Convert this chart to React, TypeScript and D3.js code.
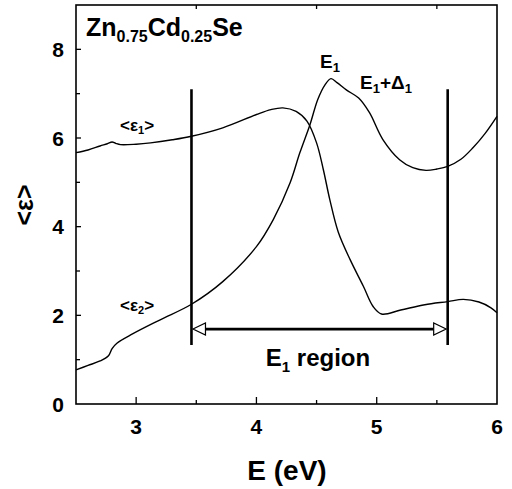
import React from "react";
import * as d3 from "d3";

const eps1: [number, number][] = [
  [2.5, 5.67], [2.6, 5.73], [2.7, 5.82], [2.76, 5.87], [2.8, 5.91], [2.83, 5.88], [2.87, 5.85],
  [3.0, 5.86], [3.12, 5.89], [3.3, 5.96], [3.46, 6.04], [3.72, 6.23], [4.0, 6.53],
  [4.12, 6.64], [4.22, 6.68], [4.33, 6.6], [4.42, 6.38], [4.5, 5.89], [4.556, 5.29],
  [4.61, 4.61], [4.68, 3.88], [4.78, 3.25], [4.89, 2.65], [4.97, 2.2], [5.04, 2.03],
  [5.2, 2.12], [5.4, 2.24], [5.59, 2.31], [5.72, 2.36], [5.85, 2.3], [5.95, 2.17], [6.0, 2.06],
];

const eps2: [number, number][] = [
  [2.5, 0.77], [2.6, 0.87], [2.7, 0.97], [2.77, 1.09], [2.8, 1.25], [2.84, 1.37],
  [2.97, 1.58], [3.2, 1.9], [3.46, 2.25], [3.72, 2.76], [4.0, 3.55], [4.14, 4.16],
  [4.28, 4.99], [4.36, 5.66], [4.445, 6.3], [4.51, 6.87], [4.57, 7.2], [4.62, 7.34],
  [4.67, 7.25], [4.75, 7.08], [4.85, 6.9], [4.94, 6.57], [5.05, 5.97], [5.19, 5.51],
  [5.3, 5.33], [5.41, 5.27], [5.5, 5.3], [5.59, 5.36], [5.7, 5.52], [5.8, 5.78],
  [5.9, 6.1], [6.0, 6.49],
];

const xMajor = [3, 4, 5];
const xMinor = [3.5, 4.5, 5.5];
const yMajor = [0, 2, 4, 6, 8];
const yMinor = [1, 3, 5, 7];
const regionBounds = [3.46, 5.59];
const regionLineY = [1.33, 7.1];
const arrowY = 1.69;

const font = "'Liberation Sans', Arial, Helvetica, sans-serif";

export default function App() {
  const L = 76, R = 497, T = 5, B = 404;
  const x = d3.scaleLinear().domain([2.5, 6]).range([L, R]);
  const y = d3.scaleLinear().domain([0, 9]).range([B, T]);
  const line = d3
    .line<[number, number]>()
    .x((d) => x(d[0]))
    .y((d) => y(d[1]))
    .curve(d3.curveCatmullRom.alpha(0.5));

  const ax0 = x(regionBounds[0]);
  const ax1 = x(regionBounds[1]);
  const ay = y(arrowY);
  const hw = 14, hh = 6;

  return (
    <svg
      width={512}
      height={489}
      style={{ position: "absolute", left: 0, top: 0, background: "#fff" }}
      fontFamily={font}
      fontWeight="bold"
    >
      <rect x={0} y={0} width={512} height={489} fill="#fff" />
      {/* curves */}
      <path d={line(eps1) || ""} fill="none" stroke="#000" strokeWidth={1.4} />
      <path d={line(eps2) || ""} fill="none" stroke="#000" strokeWidth={1.4} />

      {/* frame */}
      <rect x={L} y={T} width={R - L} height={B - T} fill="none" stroke="#000" strokeWidth={1.6} />

      {/* ticks */}
      {xMajor.map((v) => (
        <line key={"xM" + v} x1={x(v)} x2={x(v)} y1={B} y2={B - 7} stroke="#000" strokeWidth={1.3} />
      ))}
      {xMinor.map((v) => (
        <line key={"xm" + v} x1={x(v)} x2={x(v)} y1={B} y2={B - 4} stroke="#000" strokeWidth={1.3} />
      ))}
      {xMinor.map((v) => (
        <line key={"xt" + v} x1={x(v)} x2={x(v)} y1={T} y2={T + 4} stroke="#000" strokeWidth={1.3} />
      ))}
      {yMajor.filter((v) => v > 0).map((v) => (
        <line key={"yM" + v} x1={L} x2={L + 5} y1={y(v)} y2={y(v)} stroke="#000" strokeWidth={1.3} />
      ))}
      {yMinor.map((v) => (
        <line key={"ym" + v} x1={L} x2={L + 4} y1={y(v)} y2={y(v)} stroke="#000" strokeWidth={1.3} />
      ))}

      {/* tick labels */}
      {[...xMajor, 6].map((v) => (
        <text key={"xl" + v} x={x(v)} y={434} fontSize={21} textAnchor="middle">
          {v}
        </text>
      ))}
      {yMajor.map((v) => (
        <text key={"yl" + v} x={64} y={y(v) + 7.5} fontSize={21} textAnchor="end">
          {v}
        </text>
      ))}

      {/* axis titles */}
      <text x={287} y={480} fontSize={28} textAnchor="middle">E (eV)</text>
      <text transform="translate(33,205) rotate(-90)" fontSize={25} textAnchor="middle">
        {"<\u03b5>"}
      </text>

      {/* region lines */}
      {regionBounds.map((v) => (
        <line key={"rb" + v} x1={x(v)} x2={x(v)} y1={y(regionLineY[0])} y2={y(regionLineY[1])} stroke="#000" strokeWidth={2.6} />
      ))}
      <line x1={ax0 + hw} x2={ax1 - hw} y1={ay} y2={ay} stroke="#000" strokeWidth={2.6} />
      <path d={`M${ax0 + 1.5},${ay} L${ax0 + hw},${ay - hh} L${ax0 + hw},${ay + hh} Z`} fill="#fff" stroke="#000" strokeWidth={1.2} />
      <path d={`M${ax1 - 1.5},${ay} L${ax1 - hw},${ay - hh} L${ax1 - hw},${ay + hh} Z`} fill="#fff" stroke="#000" strokeWidth={1.2} />

      {/* region label */}
      <text x={318} y={366} fontSize={24} textAnchor="middle">
        E<tspan fontSize={15} dy={6}>1</tspan>
        <tspan dy={-6}> region</tspan>
      </text>

      {/* title */}
      <text x={86} y={36} fontSize={25}>
        Zn<tspan fontSize={16} dy={6}>0.75</tspan>
        <tspan dy={-6}>Cd</tspan>
        <tspan fontSize={16} dy={6}>0.25</tspan>
        <tspan dy={-6}>Se</tspan>
      </text>

      {/* peak labels */}
      <text x={320} y={68} fontSize={19}>
        E<tspan fontSize={13} dy={4}>1</tspan>
      </text>
      <text x={360} y={89} fontSize={19}>
        E<tspan fontSize={13} dy={4}>1</tspan>
        <tspan dy={-4}>+Δ</tspan>
        <tspan fontSize={13} dy={4}>1</tspan>
      </text>

      {/* curve labels */}
      <text x={120} y={131} fontSize={17}>
        {"<\u03b5"}<tspan fontSize={11} dy={3}>1</tspan>
        <tspan dy={-3}>{">"}</tspan>
      </text>
      <text x={120} y={311} fontSize={17}>
        {"<\u03b5"}<tspan fontSize={11} dy={3}>2</tspan>
        <tspan dy={-3}>{">"}</tspan>
      </text>
    </svg>
  );
}
